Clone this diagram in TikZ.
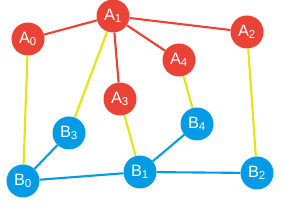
\documentclass[tikz,border=0pt]{standalone}
\usepackage{fontspec}
\setmainfont{Liberation Sans}
\usetikzlibrary{positioning}
\definecolor{ared}{RGB}{234,67,53}
\definecolor{bblue}{RGB}{3,155,229}
\definecolor{link}{RGB}{228,228,20}

\begin{document}
\begin{tikzpicture}[x=0.03cm, y=-0.03cm,
    vert/.style={circle, fill=#1, text=white, inner sep=0pt,
                 minimum size=0.99cm, font=\fontsize{14}{16}\selectfont},
    edge/.style={line width=1.8pt, #1}]

    \useasboundingbox (0,0) rectangle (283,208);

    % top layer
    \node[vert=ared] (a0) at (28,39)   {A\textsubscript{0}};
    \node[vert=ared] (a1) at (113,16)  {A\textsubscript{1}};
    \node[vert=ared] (a2) at (247,32)  {A\textsubscript{2}};
    \node[vert=ared] (a3) at (120,99)  {A\textsubscript{3}};
    \node[vert=ared] (a4) at (179,60)  {A\textsubscript{4}};

    % bottom layer
    \node[vert=bblue] (b0) at (23,181)  {B\textsubscript{0}};
    \node[vert=bblue] (b1) at (140,172) {B\textsubscript{1}};
    \node[vert=bblue] (b2) at (257,173) {B\textsubscript{2}};
    \node[vert=bblue] (b3) at (69,133)  {B\textsubscript{3}};
    \node[vert=bblue] (b4) at (197,124) {B\textsubscript{4}};

    % edges between layers
    \foreach \u/\v in {a0/b0, a1/b3, a3/b1, a4/b4, a2/b2}
      \draw[edge=link] (\u) -- (\v);

    % edges inside layers
    \foreach \u/\v in {a0/a1, a1/a2, a1/a3, a1/a4}
      \draw[edge=ared] (\u) -- (\v);
    \foreach \u/\v in {b0/b3, b0/b1, b1/b4, b1/b2}
      \draw[edge=bblue] (\u) -- (\v);
  \end{tikzpicture}
\end{document}
